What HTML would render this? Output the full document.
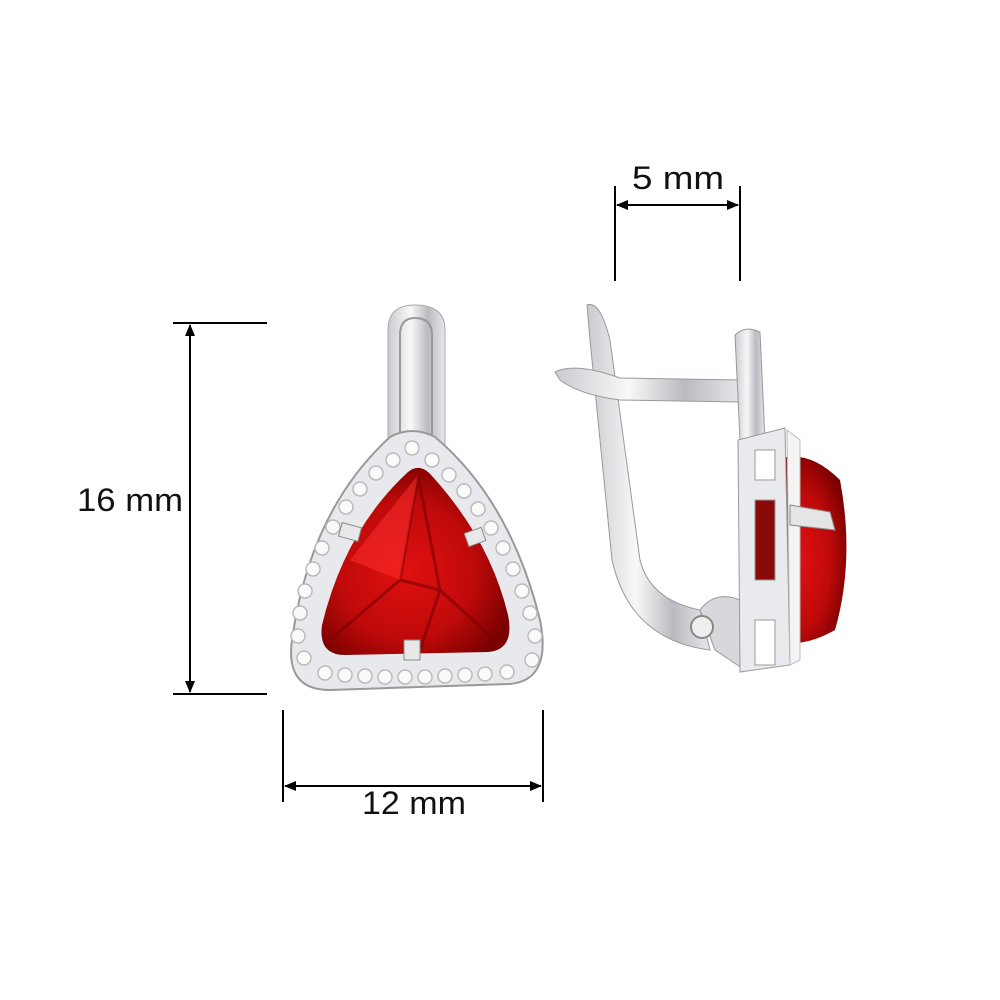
<!DOCTYPE html>
<html><head><style>
html,body{margin:0;padding:0;background:#fff;}
svg{display:block}
text{font-family:"Liberation Sans",sans-serif;font-size:32px;fill:#111}
</style></head><body>
<svg width="1000" height="1000" viewBox="0 0 1000 1000">
<defs>
<linearGradient id="sil" x1="0" x2="1">
<stop offset="0" stop-color="#c9cbd0"/><stop offset="0.4" stop-color="#f8f8f8"/><stop offset="0.7" stop-color="#b9bbc0"/><stop offset="1" stop-color="#e6e7ea"/>
</linearGradient>
<radialGradient id="ruby" cx="0.45" cy="0.55" r="0.6">
<stop offset="0" stop-color="#e01010"/><stop offset="0.6" stop-color="#c00a0a"/><stop offset="1" stop-color="#7a0000"/>
</radialGradient>
<marker id="ah" markerWidth="12" markerHeight="10" refX="11" refY="5" orient="auto" markerUnits="userSpaceOnUse">
<path d="M0,0 L12,5 L0,10 z" fill="#000"/></marker>
</defs>
<g stroke="#000" stroke-width="2" fill="none">
<line x1="173" y1="323" x2="267" y2="323"/><line x1="173" y1="694" x2="267" y2="694"/>
<line x1="190" y1="500" x2="190" y2="325" marker-end="url(#ah)"/><line x1="190" y1="500" x2="190" y2="692" marker-end="url(#ah)"/>
<line x1="283" y1="710" x2="283" y2="802"/><line x1="543" y1="710" x2="543" y2="802"/>
<line x1="413" y1="786" x2="285" y2="786" marker-end="url(#ah)"/><line x1="413" y1="786" x2="541" y2="786" marker-end="url(#ah)"/>
<line x1="615" y1="186" x2="615" y2="281"/><line x1="740" y1="186" x2="740" y2="281"/>
<line x1="678" y1="205" x2="617" y2="205" marker-end="url(#ah)"/><line x1="678" y1="205" x2="738" y2="205" marker-end="url(#ah)"/>
</g>
<text x="77" y="511" textLength="106" lengthAdjust="spacingAndGlyphs">16 mm</text>
<text x="362" y="814" textLength="104" lengthAdjust="spacingAndGlyphs">12 mm</text>
<text x="632" y="189" textLength="92" lengthAdjust="spacingAndGlyphs">5 mm</text>
<!-- front earring -->
<path d="M388,445 L388,330 Q388,305 415,305 Q445,305 445,330 L445,445 Z" fill="url(#sil)" stroke="#aaa"/>
<path d="M400,440 L400,335 Q400,318 415,318 Q432,318 432,335 L432,440" fill="none" stroke="#999" stroke-width="2"/>
<path d="M390,437 Q412,425 435,437 Q510,500 540,620 Q552,680 510,684 L330,690 Q285,690 292,640 Q310,510 390,437 Z" fill="#e8e9ec" stroke="#999" stroke-width="2"/>
<g fill="#fafafa" stroke="#bbb" stroke-width="1.5">
<circle cx="412" cy="448" r="7"/><circle cx="393" cy="460" r="7"/><circle cx="432" cy="460" r="7"/>
<circle cx="376" cy="473" r="7"/><circle cx="449" cy="475" r="7"/><circle cx="360" cy="489" r="7"/><circle cx="464" cy="491" r="7"/>
<circle cx="346" cy="507" r="7"/><circle cx="478" cy="509" r="7"/><circle cx="333" cy="527" r="7"/><circle cx="491" cy="528" r="7"/>
<circle cx="322" cy="548" r="7"/><circle cx="503" cy="548" r="7"/><circle cx="313" cy="569" r="7"/><circle cx="513" cy="569" r="7"/>
<circle cx="305" cy="591" r="7"/><circle cx="522" cy="591" r="7"/><circle cx="300" cy="613" r="7"/><circle cx="530" cy="613" r="7"/>
<circle cx="298" cy="636" r="7"/><circle cx="535" cy="636" r="7"/><circle cx="304" cy="658" r="7"/><circle cx="532" cy="660" r="7"/>
<circle cx="325" cy="673" r="7"/><circle cx="345" cy="675" r="7"/><circle cx="365" cy="676" r="7"/><circle cx="385" cy="677" r="7"/>
<circle cx="405" cy="677" r="7"/><circle cx="425" cy="677" r="7"/><circle cx="445" cy="676" r="7"/><circle cx="465" cy="675" r="7"/><circle cx="485" cy="674" r="7"/><circle cx="507" cy="672" r="7"/>
</g>
<path d="M408,472 Q420,462 432,476 Q490,540 508,615 Q515,650 488,652 L345,655 Q318,655 322,625 Q345,530 408,472 Z" fill="url(#ruby)"/>
<path d="M418,475 L400,580 L330,640 M418,475 L440,590 L500,645 M400,580 L440,590 L420,650" stroke="#7a0000" stroke-width="3" fill="none" opacity="0.6"/>
<path d="M418,475 L350,560 L400,580 Z" fill="#ff3030" opacity="0.5"/>
<g fill="#e8e8e8" stroke="#888"><rect x="340" y="525" width="20" height="14" transform="rotate(15 350 532)"/><rect x="466" y="530" width="18" height="14" transform="rotate(-20 475 537)"/><rect x="404" y="640" width="16" height="20"/></g>
<!-- side earring -->
<path d="M587,305 Q600,300 610,340 L640,560 Q650,600 700,610 L710,650 Q630,640 612,560 L590,340 Z" fill="url(#sil)" stroke="#999"/>
<path d="M555,372 Q575,362 620,378 L740,380 L740,402 L620,400 Q580,395 560,380 Z" fill="url(#sil)" stroke="#999"/>
<path d="M735,335 Q745,325 760,332 L765,440 L740,440 Z" fill="url(#sil)" stroke="#999"/>
<path d="M700,610 Q715,590 740,600 L745,670 L715,650 Z" fill="#d7d8dc" stroke="#999"/>
<circle cx="702" cy="627" r="11" fill="#eee" stroke="#888" stroke-width="2"/>
<path d="M760,468 Q800,440 840,480 Q855,560 835,630 Q800,650 770,640 Z" fill="url(#ruby)"/>
<path d="M738,440 L785,428 L790,665 L740,672 Z" fill="#e9eaed" stroke="#999"/>
<rect x="755" y="450" width="20" height="30" fill="#fff" stroke="#999"/>
<rect x="755" y="500" width="20" height="80" fill="#8a0a0a" stroke="#999"/>
<rect x="755" y="620" width="20" height="45" fill="#fff" stroke="#999"/>
<path d="M787,430 L800,440 L800,660 L790,665 Z" fill="#f4f4f4" stroke="#bbb"/>
<path d="M790,505 L830,512 L835,530 L790,525 Z" fill="#e5e5e5" stroke="#888"/>
</svg>
</body></html>
